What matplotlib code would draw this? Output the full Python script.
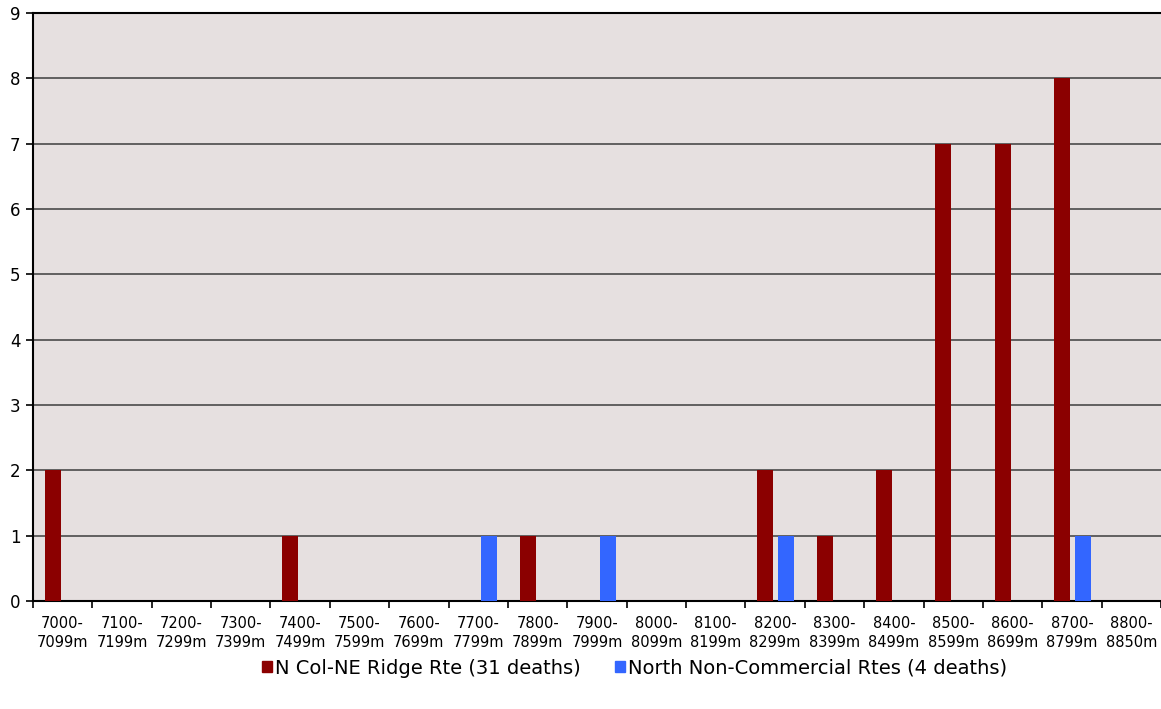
import numpy as np
import matplotlib.pyplot as plt
from matplotlib.patches import Patch

# Altitude bands
categories = ["7000-\n7099m", "7100-\n7199m", "7200-\n7299m", "7300-\n7399m", "7400-\n7499m",
              "7500-\n7599m", "7600-\n7699m", "7700-\n7799m", "7800-\n7899m", "7900-\n7999m",
              "8000-\n8099m", "8100-\n8199m", "8200-\n8299m", "8300-\n8399m", "8400-\n8499m",
              "8500-\n8599m", "8600-\n8699m", "8700-\n8799m", "8800-\n8850m"]

# Deaths per band
ne_ridge = [2, 0, 0, 0, 1, 0, 0, 0, 1, 0, 0, 0, 2, 1, 2, 7, 7, 8, 0]
north_nc = [0, 0, 0, 0, 0, 0, 0, 1, 0, 1, 0, 0, 1, 0, 0, 0, 0, 1, 0]

red = "#8B0000"
blue = "#3366FF"

fig = plt.figure(figsize=(11.61, 7.09), dpi=100)
ax = fig.add_axes([33 / 1161, 1 - 601 / 709, 1128 / 1161, 588 / 709])
ax.set_facecolor("#E6E0E0")

x = np.arange(len(categories))
w = 0.27
ax.bar(x + 0.5 - 0.165, ne_ridge, width=w, color=red, zorder=3)
ax.bar(x + 0.5 + 0.18, north_nc, width=w, color=blue, zorder=3)

ax.set_xlim(0, len(categories))
ax.set_ylim(0, 9)
ax.set_yticks(range(10))
ax.set_xticks(np.arange(len(categories) + 1))
ax.set_xticklabels([])
ax.set_xticks(x + 0.5, minor=True)
ax.set_xticklabels(categories, minor=True, fontsize=10.5, linespacing=1.35)
ax.tick_params(axis="x", which="minor", length=0, pad=11)
ax.tick_params(axis="x", which="major", length=5, width=1.2, direction="out")
ax.tick_params(axis="y", length=5, width=1.2, labelsize=12, pad=4)

ax.grid(axis="y", color="#4a4a4a", linewidth=1.2, zorder=1)
ax.spines["right"].set_visible(False)
for s in ["left", "bottom", "top"]:
    ax.spines[s].set_linewidth(1.5)
    ax.spines[s].set_color("black")

handles = [Patch(color=red, label="N Col-NE Ridge Rte (31 deaths)"),
           Patch(color=blue, label="North Non-Commercial Rtes (4 deaths)")]
fig.legend(handles=handles, loc="center", bbox_to_anchor=(0.5465, 1 - 668 / 709), ncol=2,
           frameon=False, fontsize=14, handlelength=0.5, handleheight=0.5,
           handletextpad=0.15, columnspacing=1.8)

fig.savefig("out.png", dpi=100)
